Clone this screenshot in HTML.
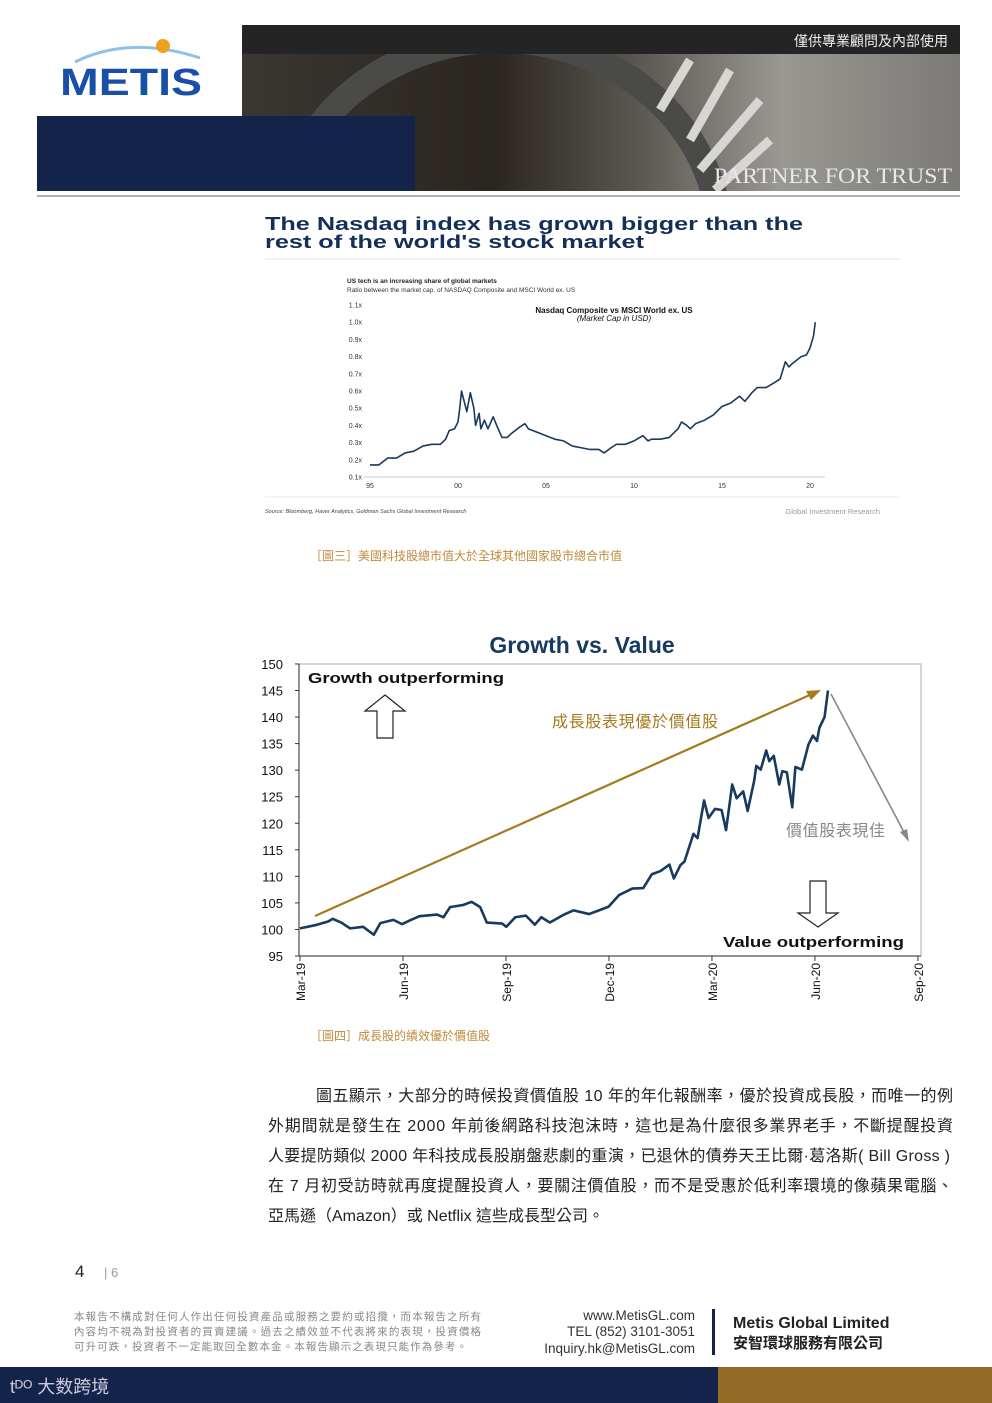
<!DOCTYPE html>
<html><head><meta charset="utf-8"><style>
html,body{margin:0;padding:0;background:#fff}
#page{position:relative;width:992px;height:1403px;overflow:hidden;font-family:"Liberation Sans","Noto Sans CJK TC",sans-serif}
svg{position:absolute;left:0;top:0}
</style></head><body>
<div id="page">
<svg width="992" height="1403" viewBox="0 0 992 1403">
<defs>
<linearGradient id="stair" x1="0" y1="0" x2="1" y2="0">
<stop offset="0" stop-color="#3a3631"/><stop offset="0.35" stop-color="#2a2520"/><stop offset="0.55" stop-color="#5a5650"/><stop offset="0.75" stop-color="#9a9892"/><stop offset="1" stop-color="#7c7a76"/>
</linearGradient>
<clipPath id="photoclip"><rect x="242" y="54" width="718" height="137"/></clipPath>
</defs>
<g>
<rect x="242" y="25" width="718" height="29" fill="#242424"/>
<text x="948" y="46" text-anchor="end" font-size="14" fill="#eee">僅供專業顧問及內部使用</text>
<g clip-path="url(#photoclip)">
<rect x="242" y="54" width="718" height="137" fill="url(#stair)"/>
<ellipse cx="500" cy="240" rx="220" ry="200" fill="none" stroke="#4a4a48" stroke-width="26"/>
<g stroke="#d8d6d2" stroke-width="9">
<line x1="690" y1="60" x2="660" y2="110"/><line x1="730" y1="70" x2="690" y2="140"/><line x1="760" y1="100" x2="700" y2="170"/><line x1="770" y1="140" x2="715" y2="190"/>
</g>
</g>
<text x="952" y="183" text-anchor="end" font-family="Liberation Serif,serif" font-size="22" fill="#e8e8e8" textLength="238" lengthAdjust="spacingAndGlyphs">PARTNER FOR TRUST</text>
<rect x="37" y="116" width="378" height="75" fill="#14234a"/>
<line x1="37" y1="196" x2="960" y2="196" stroke="#b0b0b0" stroke-width="2"/>
<g>
<path d="M75 62 Q130 35 200 58" fill="none" stroke="#8fc0e6" stroke-width="3"/>
<circle cx="163" cy="46" r="7" fill="#f0a020"/>
<text x="60" y="95" font-size="38" font-weight="bold" fill="#1a4fa8" textLength="142" lengthAdjust="spacingAndGlyphs">METIS</text>
</g>
</g>
<g>
<text x="265" y="230" font-size="18" font-weight="bold" fill="#143058" textLength="538" lengthAdjust="spacingAndGlyphs">The Nasdaq index has grown bigger than the</text>
<text x="265" y="248" font-size="18" font-weight="bold" fill="#143058" textLength="379" lengthAdjust="spacingAndGlyphs">rest of the world's stock market</text>
<line x1="265" y1="259" x2="900" y2="259" stroke="#e2e2e2"/>
<text x="347" y="283" font-size="6.5" font-weight="bold" fill="#222">US tech is an increasing share of global markets</text>
<text x="347" y="292" font-size="6.5" fill="#333">Ratio between the market cap. of NASDAQ Composite and MSCI World ex. US</text>
<text x="614" y="313" text-anchor="middle" font-size="8" font-weight="bold" fill="#111">Nasdaq Composite vs MSCI World ex. US</text>
<text x="614" y="321" text-anchor="middle" font-size="8" font-style="italic" fill="#111">(Market Cap in USD)</text>
<g id="c1axes"></g>
<g id="c1plot"></g>
<line x1="265" y1="497" x2="900" y2="497" stroke="#e8e8e8"/>
<text x="265" y="513" font-size="5.5" font-style="italic" fill="#444">Source: Bloomberg, Haver Analytics, Goldman Sachs Global Investment Research</text>
<text x="880" y="514" text-anchor="end" font-size="7.5" fill="#999">Global Investment Research</text>
</g>
<text x="310" y="560" font-size="12" fill="#c0893a">［圖三］美國科技股總市值大於全球其他國家股市總合市值</text>
<g>
<text x="582" y="653" text-anchor="middle" font-size="23" font-weight="bold" fill="#173a5e">Growth vs. Value</text>
<rect x="299" y="664" width="622" height="292" fill="none" stroke="#bbb" stroke-width="1.2"/>
<g id="c2axes"></g>
<g id="c2plot"></g>
<text x="308" y="683" font-size="15" font-weight="bold" fill="#111" textLength="196" lengthAdjust="spacingAndGlyphs">Growth outperforming</text>
<polygon points="385,695 405,711 393,711 393,738 377,738 377,711 365,711" fill="#fff" stroke="#222" stroke-width="1.2"/>
<polygon points="818,927 798,913 810,913 810,881 826,881 826,913 838,913" fill="#fff" stroke="#222" stroke-width="1.2"/>
<text x="723" y="947" font-size="15" font-weight="bold" fill="#111" textLength="181" lengthAdjust="spacingAndGlyphs">Value outperforming</text>
<line x1="315" y1="916" x2="812" y2="694" stroke="#a67a1e" stroke-width="2.2"/>
<polygon points="821,690 806,691 811,700" fill="#a67a1e"/>
<text x="552" y="727" font-size="16" fill="#a67a1e" textLength="166">成長股表現優於價值股</text>
<line x1="831" y1="694" x2="905" y2="834" stroke="#888" stroke-width="1.6"/>
<polygon points="909,842 900,832 907,829" fill="#888"/>
<text x="786" y="836" font-size="16" fill="#888" textLength="99">價值股表現佳</text>
</g>
<text x="310" y="1040" font-size="12" fill="#c0893a">［圖四］成長股的績效優於價值股</text>
<g font-size="16" fill="#222">
<text x="316" y="1101" textLength="637">圖五顯示，大部分的時候投資價值股 10 年的年化報酬率，優於投資成長股，而唯一的例</text>
<text x="268" y="1131" textLength="685">外期間就是發生在 2000 年前後網路科技泡沫時，這也是為什麼很多業界老手，不斷提醒投資</text>
<text x="268" y="1161" textLength="682">人要提防類似 2000 年科技成長股崩盤悲劇的重演，已退休的債券天王比爾·葛洛斯( Bill Gross )</text>
<text x="268" y="1191" textLength="685">在 7 月初受訪時就再度提醒投資人，要關注價值股，而不是受惠於低利率環境的像蘋果電腦、</text>
<text x="268" y="1221">亞馬遜（Amazon）或 Netflix 這些成長型公司。</text>
</g>
<g>
<text x="75" y="1277" font-size="17" fill="#222">4</text>
<text x="104" y="1277" font-size="13" fill="#999">| 6</text>
<g font-size="10.5" fill="#888">
<text x="74" y="1320" textLength="407">本報告不構成對任何人作出任何投資產品或服務之要約或招攬，而本報告之所有</text>
<text x="74" y="1335" textLength="407">內容均不視為對投資者的買賣建議。過去之績效並不代表將來的表現，投資價格</text>
<text x="74" y="1350" textLength="393">可升可跌，投資者不一定能取回全數本金。本報告顯示之表現只能作為參考。</text>
</g>
<g font-size="13.5" fill="#333" text-anchor="end">
<text x="695" y="1320">www.MetisGL.com</text>
<text x="695" y="1336">TEL (852) 3101-3051</text>
<text x="695" y="1353">Inquiry.hk@MetisGL.com</text>
</g>
<rect x="712" y="1309" width="3" height="46" fill="#14234a"/>
<text x="733" y="1328" font-size="16" font-weight="bold" fill="#222">Metis Global Limited</text>
<text x="733" y="1348" font-size="15" font-weight="bold" fill="#222">安智環球服務有限公司</text>
<rect x="0" y="1367" width="718" height="36" fill="#14234a"/>
<rect x="718" y="1367" width="274" height="36" fill="#946a27"/>
<text x="10" y="1393" font-size="18" fill="#ccd">tᴰᴼ 大数跨境</text>
</g>
</svg>
</div>
<script>
const NS="http://www.w3.org/2000/svg";
const c1Years=[1995,1995.5,1996,1996.5,1997,1997.5,1998,1998.5,1999,1999.3,1999.5,1999.8,2000,2000.1,2000.2,2000.4,2000.5,2000.7,2000.9,2001,2001.2,2001.3,2001.5,2001.7,2002,2002.2,2002.5,2002.8,2003,2003.5,2003.8,2004,2004.5,2005,2005.5,2006,2006.5,2007,2007.5,2008,2008.3,2008.7,2009,2009.5,2010,2010.5,2010.8,2011,2011.5,2012,2012.5,2012.7,2013,2013.2,2013.5,2014,2014.5,2015,2015.5,2016,2016.3,2016.7,2017,2017.5,2018,2018.3,2018.6,2018.8,2019,2019.5,2019.8,2020,2020.2,2020.3];
const c1Values=[.17,.17,.21,.21,.24,.25,.28,.29,.29,.32,.37,.38,.42,.50,.60,.52,.48,.59,.50,.40,.47,.38,.43,.38,.45,.40,.33,.33,.35,.39,.41,.38,.36,.34,.32,.31,.28,.27,.26,.26,.24,.27,.29,.29,.31,.34,.31,.32,.32,.33,.38,.42,.40,.38,.41,.43,.46,.51,.53,.57,.54,.59,.62,.62,.65,.67,.77,.74,.76,.80,.81,.85,.92,1.00];
const c1YTicks=[0.1,0.2,0.3,0.4,0.5,0.6,0.7,0.8,0.9,1.0,1.1];
const c1YLabels=["0.1x","0.2x","0.3x","0.4x","0.5x","0.6x","0.7x","0.8x","0.9x","1.0x","1.1x"];
const c1XTicks=[1995,2000,2005,2010,2015,2020];
const c1XLabels=["95","00","05","10","15","20"];
const c2Months=[0,.44,.82,.95,1.2,1.46,1.84,2.15,2.34,2.72,2.97,3.23,3.48,3.99,4.18,4.37,4.75,5.0,5.25,5.44,5.89,6.01,6.27,6.58,6.84,7.03,7.28,7.66,7.97,8.42,8.67,8.99,9.3,9.68,10.0,10.25,10.5,10.76,10.89,11.08,11.2,11.46,11.58,11.77,11.9,12.09,12.28,12.41,12.59,12.72,12.91,13.04,13.23,13.29,13.42,13.58,13.67,13.8,13.96,14.05,14.18,14.34,14.43,14.62,14.81,14.94,15.06,15.13,15.28,15.38];
const c2Values=[100.2,100.8,101.5,102,101.3,100.2,100.5,99.0,101.2,101.8,101,101.8,102.5,102.8,102.3,104.2,104.6,105.2,104.2,101.3,101.1,100.5,102.3,102.6,100.9,102.3,101.3,102.7,103.6,102.9,103.5,104.3,106.5,107.7,107.8,110.4,111.0,112.2,109.6,112.1,112.8,118.0,117.2,124.3,121.0,122.7,122.5,118.7,127.3,124.7,126.0,122.3,128.0,130.8,130.1,133.7,131.7,132.7,127.3,129.8,129.6,123.0,130.6,130.1,134.8,136.5,135.5,138.0,140.0,145.0];
const c2YTicks=[95,100,105,110,115,120,125,130,135,140,145,150];
const c2XTicks=[0,3,6,9,12,15,18];
const c2XLabels=["Mar-19","Jun-19","Sep-19","Dec-19","Mar-20","Jun-20","Sep-20"];

function mk(tag,attrs,parent){const e=document.createElementNS(NS,tag);for(const k in attrs)e.setAttribute(k,attrs[k]);parent.appendChild(e);return e;}
const x1=v=>370+(v-1995)*17.6, y1=v=>477-(v-0.1)*172;
const a1=document.getElementById('c1axes'), p1=document.getElementById('c1plot');
mk('line',{x1:364,y1:477,x2:825,y2:477,stroke:'#ccc'},a1);
c1YTicks.forEach((t,i)=>{const e=mk('text',{x:362,y:y1(t)+2.5,'text-anchor':'end','font-size':7,fill:'#333'},a1);e.textContent=c1YLabels[i];

});
c1XTicks.forEach((t,i)=>{const e=mk('text',{x:x1(t),y:488,'text-anchor':'middle','font-size':7,fill:'#333'},a1);e.textContent=c1XLabels[i];

});
const l1=mk('polyline',{points:c1Years.map((y,i)=>x1(y)+','+y1(c1Values[i])).join(' '),fill:'none',stroke:'#173a5e','stroke-width':1.6,'stroke-linejoin':'round'},p1);


const x2=m=>300+m*34.33, y2=v=>956-(v-95)*5.31;
const a2=document.getElementById('c2axes'), p2=document.getElementById('c2plot');
mk('line',{x1:299,y1:664,x2:299,y2:956,stroke:'#333'},a2);
mk('line',{x1:299,y1:956,x2:921,y2:956,stroke:'#333'},a2);
c2YTicks.forEach(t=>{mk('line',{x1:295,y1:y2(t),x2:299,y2:y2(t),stroke:'#333'},a2);
const e=mk('text',{x:283,y:y2(t)+5,'text-anchor':'end','font-size':13,fill:'#111'},a2);e.textContent=t;

});
c2XTicks.forEach((t,i)=>{mk('line',{x1:x2(t),y1:956,x2:x2(t),y2:961,stroke:'#333'},a2);
const e=mk('text',{x:0,y:0,'text-anchor':'end','font-size':12,fill:'#111',transform:`translate(${x2(t)+5},${963}) rotate(-90)`},a2);e.textContent=c2XLabels[i];

});
const l2=mk('polyline',{points:c2Months.map((m,i)=>x2(m)+','+y2(c2Values[i])).join(' '),fill:'none',stroke:'#173a5e','stroke-width':2.6,'stroke-linejoin':'round'},p2);


</script>
</body></html>
